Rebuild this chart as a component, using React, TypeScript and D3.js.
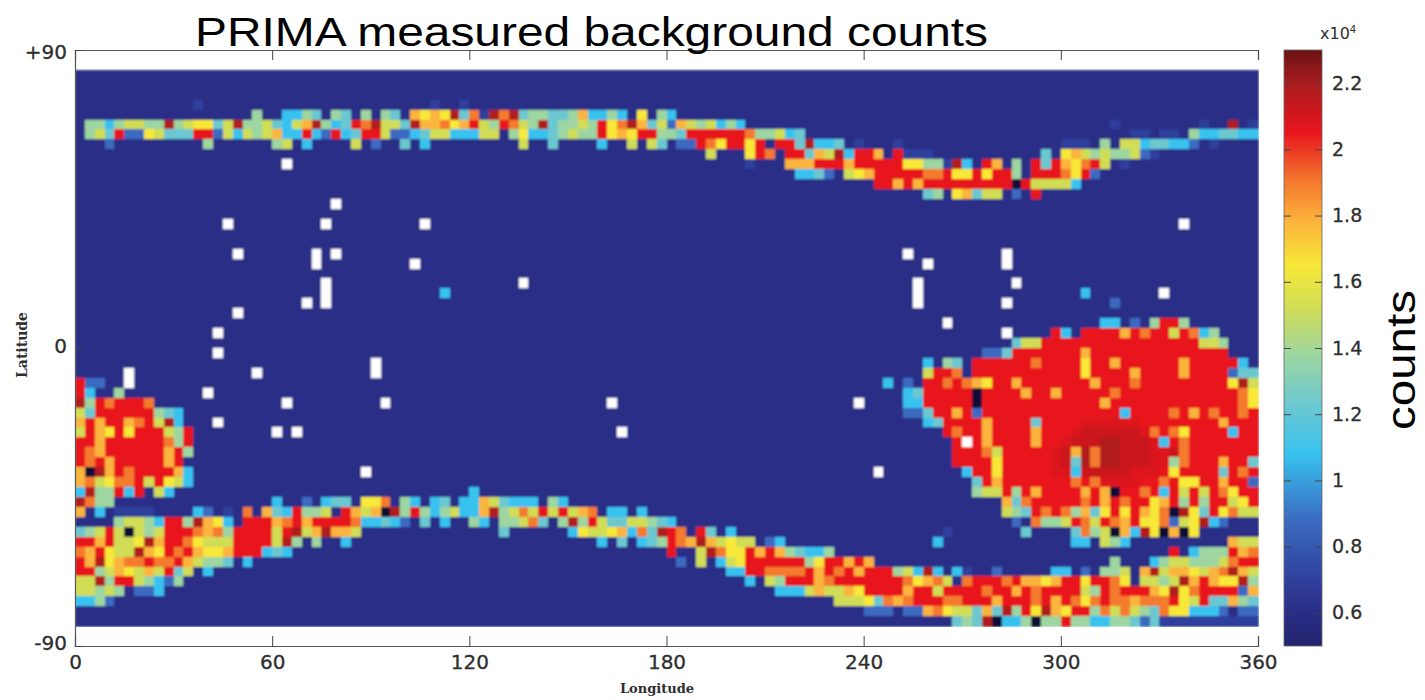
// PRIMA background counts map: 3 degree bins, drawn with d3 scales and axes
import React, { useEffect, useRef } from "react";
import * as d3 from "d3";

const lonTicks = [0, 60, 120, 180, 240, 300, 360];
const latTicks = [90, 0, -90];
const latLabels = ["+90", "0", "-90"];
const barTicks = [6000, 8000, 10000, 12000, 14000, 16000, 18000, 20000, 22000];
const barLabels = ["0.6", "0.8", "1", "1.2", "1.4", "1.6", "1.8", "2", "2.2"];

// counts for each letter used in the rows below, w = no data
const levels: Record<string, number> = {
  k: 4800, ".": 6000, a: 7000, b: 8800, c: 10800, t: 12300, g: 13800, y: 15200,
  Y: 16500, o: 17800, O: 19000, r: 20500, e: 20800, d: 21200, R: 21800, w: NaN,
};

const colorStops = [4800, 5000, 6000, 7000, 8800, 10800, 12300, 13800, 15200, 16500, 17800, 19000, 20500, 21000, 22000, 23000];
const colorValues = ["#100d38", "#23246e", "#2a2d87", "#2f409c", "#3a6bc0", "#38c2f0", "#6cc8d0", "#9dd6a0", "#d0dd55", "#f8e838", "#fbb43c", "#f47a2e", "#e8161e", "#d4171e", "#a81d1f", "#6a1214"];

// one string per latitude band from 84 down to -84, ten longitude bins per group, "-" is an empty group
const rows = [
  "",
  "",
  "",
  "- ..a....... - ......a..a",
  "- ........g. .ccgt.gt.g .gt.oYoYRt OaRORtggtt goccgc.Y.g c.........",
  ".ggcgyyggR gyYYtyRggy tcyoRgctrO RyytRooOYo rygrOygRtg gygrYORoty boygycgc.. - - - .....a.... ....a..R.a",
  ".gytrbbYyt ttrrbycygy occrcbrctr rybbctyycc cyy.gYcctg yggrYoYrrg gtrrrrrrOg gyct...... - - .......aa. aa.gccttcc",
  "...b...... ...g...... gy.c....y. b..t.c.... .....y..t. ...c..y.yt .bbrOYrrYr .rrtRcct.a ...a...... - aaa.g.yyct tccb.a....",
  "- - - - - - ....y...Yr O.rrtoyRcr ro.raaa... ........t. Yoygyggyba",
  "- - .w........ - - - ........a. ..ooorrror rrrrYYggaR c.ro.g.rtr oYOry.a...",
  "- - - - - - - ...cctb.yY orrrrrOOrY YrYrrg.rrr OYrb......",
  "- - - - - - - - .rrororrrr rrrrrkryyy yc........",
  "- - - - - - - - ......tg.Y otyy.b.r..",
  "- - ......w...",
  "",
  "- .....w.... .....w.... .....w.... - - - - - - - ..w.......",
  "",
  "",
  "- ......w... ....w.w... - - - - - ....w..... ....w.....",
  "- - ....w..... ....w..... - - - - ......w... ....w.....",
  "",
  "- - .....w.... - .....w.... - - - .....w.... .....w....",
  "- - .....w.... .......c.. - - - - .....w.... - ..c....... w.........",
  "- - ...w.w.... - - - - - .....w.... ....w..... .....b....",
  "- ......w...",
  "- - - - - - - - ........w. - ....cc.b.g rrg.......",
  "- ....w..... - - - - - - - ....w....r c.rrrrorOr ryrOcg....",
  "- - - - - - - - - .....tyyrr rrrrrrrrrr rrrryyg...",
  "- ....w..... - - - - - - - ..bbtrrrrr rrorrrrrrr rrrrrrr...",
  "- - - w......... - - - - ......c.gt .rrrrrrOrr rrYrrorrrr rrorrrrrc.",
  ".....w.... ........w. - w......... - - - - ......yrrO .rrrrrrrrr rrYrrrrorr rrorrrrbtt",
  "rbb..w.... - - - - - - - ..c.b.rrOr OoYrrorrrr rrrorrrOrr rrrrrrrYRy",
  "rc..g..... ...w...... - - - - - - ....ctrrrr rkrrrrorro rrrrrOrrrr rrrrrrrrOY",
  "RgrOrrrO.. - .w........ .w........ - ....w..... - .........w ....ccrrrr rkrrrrrrrr rrrrorrrrr rrrrrrrrOY",
  "ytrrrrrrgt c......... - - - - - - ....bbtrro rbrrrrrrrr rrrrrrcrrr rOrorOrrOr",
  "ororroOryR c...w..... - - - - - - ......ctrr rrorrrrtrr rreeeeeerr rrrrrrorrr",
  "yroYrYrrry gr........ w.w....... - - .....w.... - - ........rO rrorrrrorr reddddddeO rOYrrrrcrr",
  "rrorrrrrrO gr........ - - - - - - .........r wrorrrrorr edddRRddde crOrrrrrrr",
  "rOorrrrrro rg........ - - - - - - .........r rrOyrrrrre doRORRddde edOrrrrrrr",
  "rOrorrrrro r......... - - - - - - .........r rrrYrrrrre dtRORRddde egOrrrorrt",
  "okRorOrrrr oc........ .........w - - - - - .w........ crrYrrrrre ecdddddeee rYrrrrtrOr",
  "oOyYOOryrY yc........ - - - - - - - .trorrrrrr rOrOeeeerr OrYYrrorrb",
  "cRggrcr.yc - - - c......... - - - - .gyyrgrorr rrorokrrOr cryryrOYrr",
  "ROgg...... - c..b.ctt.Y YO.gc.ct.c coytccc.gc - - - - ....otOrrr rrOrorOrrY orgrgrryYr",
  "o.c.aaaa.. ..cb.a.O.o tcrggy.roy okRgrgcgyc coRgyOyryr yoO.cc.c.. - - - ....ygtrOr OgotYrYroY OkRYtrYOyy",
  "....gyygcr rgRoYc.rrr oOrorrrrOc ctcb.t.c.. gc.ggyOt.g Rgryttyygt c......... - - .....b.Ogg yrOyrOorYY ObyYRcb...",
  "tgyrykygyr rrOoOgrrrr yrRyoRooy. - ...t...... cYyyYocOtR rO.rt.c... - ........a. ......t... .tOgykocRY kokY......",
  "rroryyYRor rOYyyyrrrr yRg.g..c.. - - ...c.t.ctg rOoRoyYyy. bc........ .......c.. - .cc.ygc... .......oyy",
  "OorYyyRoYr OroYYorrrc tc........ - - - r..yROYYro rogtccg... - - - .r.cgggroO",
  "roRYoOOrOO royggt.c.. - - - - .b.y.cyYrr rrrrgYrror o......... - .....g...c gyygggyOrr",
  "rrgyoYyoyr ty.c...... - - - - ......ccrr OOOOrorOro rrrgycRc.c a..b.....c c.b.ggy.oR yooYyoORoy",
  "yyRgrrygcb g......... - - - - ........c. ygrrroOrrr rrrrOYoOy. OrrrOrooYo rrYrrOY.yy gyRoroYYRg",
  "yygyg.bbc. - - - - - - .cccyoyyoY rrrrorryrr rrOrrorOrr rrygrOrrro YRYOrrrrbo",
  "ccgb...... - - - - - - .......yyy YtOoOrrrOO rrrorrrOro rOYOrOOoOO OrYyrttogt",
  "- - - - - - - - bbb.bboOYy ytotRgrYRo YrrgOyOygt OYYcccb.bb",
  "- - - - - - - - .........t gtRkccgkgg rggccggtbt aaaaaaaaaa",
];

const tickFont = "'DejaVu Sans', sans-serif";
const inkColor = "#2e2e2e";

function parseRow(row: string): number[] {
  const parts = row.split(" ");
  const out: number[] = [];
  for (let g = 0; g < 12; g++) {
    let group = parts[g] && parts[g] !== "-" ? parts[g] : "";
    group = group.padEnd(10, ".").slice(0, 10);
    for (const ch of group) out.push(levels[ch]);
  }
  return out;
}

export default function App() {
  const ref = useRef<SVGSVGElement>(null);

  useEffect(() => {
    const svg = d3.select(ref.current);
    svg.selectAll("*").remove();

    const x = d3.scaleLinear().domain([0, 360]).range([75, 1258]);
    const y = d3.scaleLinear().domain([90, -90]).range([50, 646]);
    const barY = d3.scaleLinear().domain([5000, 23000]).range([646, 50]);
    const color = d3.scaleLinear<string>().domain(colorStops).range(colorValues).clamp(true);

    const defs = svg.append("defs");
    defs.append("filter").attr("id", "soft")
      .attr("x", "0").attr("y", "0").attr("width", "1").attr("height", "1")
      .append("feGaussianBlur").attr("stdDeviation", 0.8);
    const grad = defs.append("linearGradient").attr("id", "bar")
      .attr("x1", 0).attr("x2", 0).attr("y1", 1).attr("y2", 0);
    colorStops.filter(d => d >= 5000).forEach(d => {
      grad.append("stop")
        .attr("offset", (d - 5000) / 18000)
        .attr("stop-color", color(d));
    });

    // heat map cells, every bin is 3 degrees
    const cells = rows.flatMap((row, r) =>
      parseRow(row).map((value, c) => ({ lon: c * 3, lat: 84 - r * 3, value }))
    );
    svg.append("g").attr("filter", "url(#soft)").attr("shape-rendering", "crispEdges")
      .selectAll("rect").data(cells).enter().append("rect")
      .attr("x", d => x(d.lon))
      .attr("y", d => y(d.lat))
      .attr("width", x(3) - x(0) + 0.5)
      .attr("height", y(0) - y(3) + 0.5)
      .attr("fill", d => (isNaN(d.value) ? "#ffffff" : color(d.value)));

    const styleAxis = (g: any, size: number) => {
      g.select(".domain").attr("stroke", "#555").attr("stroke-width", 1.2);
      g.selectAll("line").attr("stroke", "#444");
      g.selectAll("text").attr("font-family", tickFont).attr("font-size", size).attr("fill", inkColor)
        .attr("stroke", inkColor).attr("stroke-width", 0.3);
    };

    // bottom, top and left axes, ticks point inward
    svg.append("g").attr("transform", "translate(0,646)")
      .call(d3.axisBottom(x).tickValues(lonTicks).tickSize(-10).tickPadding(9).tickFormat(d3.format("d")) as any)
      .call(styleAxis, 20);
    svg.append("g").attr("transform", "translate(0,50)")
      .call(d3.axisTop(x).tickValues(lonTicks).tickSize(-10).tickFormat(() => "") as any)
      .call(styleAxis, 20);
    const latAxis = svg.append("g").attr("transform", "translate(75,0)")
      .call(d3.axisLeft(y).tickValues(latTicks).tickSize(-8).tickPadding(8)
        .tickFormat((d, i) => latLabels[i]) as any)
      .call(styleAxis, 20);
    // the outer labels sit a little inside the axis ends
    latAxis.selectAll("text").attr("y", (d: any) => (d === 90 ? 2 : d === -90 ? -3 : -2));

    // colour bar
    const barX0 = 1284;
    const barX1 = 1322;
    svg.append("rect")
      .attr("x", barX0).attr("y", 50)
      .attr("width", barX1 - barX0).attr("height", 596)
      .attr("fill", "url(#bar)").attr("stroke", "#666").attr("stroke-width", 0.8);
    const barAxis = svg.append("g").attr("transform", `translate(${barX1},0)`)
      .call(d3.axisRight(barY).tickValues(barTicks).tickSize(-7).tickPadding(10)
        .tickFormat((d, i) => barLabels[i]) as any)
      .call(styleAxis, 19);
    barAxis.select(".domain").remove();
    const barLeft = svg.append("g").attr("transform", `translate(${barX0},0)`)
      .call(d3.axisLeft(barY).tickValues(barTicks).tickSize(-7).tickFormat(() => "") as any)
      .call(styleAxis, 19);
    barLeft.select(".domain").remove();

    svg.append("text")
      .attr("x", 1320).attr("y", 39)
      .attr("font-family", tickFont).attr("font-size", 16).attr("fill", inkColor)
      .text("x10")
      .append("tspan").attr("dy", -6).attr("font-size", 10).text("4");

    // titles and axis names
    svg.append("text")
      .attr("x", 195).attr("y", 46)
      .attr("font-family", "'Liberation Sans', sans-serif").attr("font-size", 40)
      .attr("textLength", 793).attr("lengthAdjust", "spacingAndGlyphs")
      .text("PRIMA measured background counts");
    svg.append("text")
      .attr("transform", "translate(1415,430) rotate(-90)")
      .attr("font-family", "'Liberation Sans', sans-serif").attr("font-size", 40)
      .attr("textLength", 140).attr("lengthAdjust", "spacingAndGlyphs")
      .text("counts");
    svg.append("text")
      .attr("x", 657).attr("y", 693).attr("text-anchor", "middle")
      .attr("font-family", "'DejaVu Serif', serif").attr("font-size", 13).attr("font-weight", "bold")
      .attr("fill", inkColor)
      .text("Longitude");
    svg.append("text")
      .attr("transform", "translate(27,345) rotate(-90)").attr("text-anchor", "middle")
      .attr("font-family", "'DejaVu Serif', serif").attr("font-size", 14).attr("font-weight", "bold")
      .attr("fill", inkColor)
      .text("Latitude");
  }, []);

  return (
    <svg
      ref={ref}
      width={1425}
      height={700}
      style={{ position: "absolute", left: 0, top: 0, display: "block" }}
    />
  );
}
